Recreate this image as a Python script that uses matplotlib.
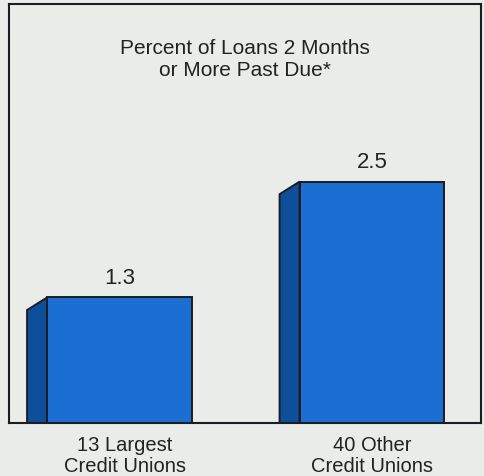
import matplotlib
matplotlib.use("Agg")
import matplotlib.pyplot as plt
from matplotlib.patches import Polygon

# Delinquency rates, percent of loans 2+ months past due
groups = ["13 Largest\nCredit Unions", "40 Other\nCredit Unions"]
past_due = [1.3, 2.5]

paper = "#eaece9"
front_blue = "#1c6fd2"
side_blue = "#0e4f9c"
ink = "#1c1c22"

plt.rcParams["font.family"] = ["Liberation Sans", "DejaVu Sans"]

fig = plt.figure(figsize=(4.85, 4.77), dpi=100, facecolor=paper)
ax = fig.add_axes([9 / 485, 53 / 477, 472 / 485, 419 / 477])
ax.set_facecolor(paper)

bar_w = 0.574
depth_x = 0.079   # how far the side face sticks out to the left
depth_y = 0.13    # how much the side's top drops

xs = list(range(len(past_due)))
ax.bar(xs, past_due, width=bar_w, color=front_blue, edgecolor=ink,
       linewidth=1.4, zorder=3)

for x, v in zip(xs, past_due):
    x0 = x - bar_w / 2
    side = Polygon([(x0, -0.01), (x0, v), (x0 - depth_x, v - depth_y),
                    (x0 - depth_x, -0.01)], closed=True,
                   facecolor=side_blue, edgecolor=ink, linewidth=1.4, zorder=2)
    ax.add_patch(side)
    ax.text(x, v + 0.1, f"{v:.1f}", ha="center", va="bottom",
            fontsize=16, color="#222222")

ax.set_xlim(-0.4376, 1.4317)
ax.set_ylim(0, 4.34)
ax.set_xticks([])
ax.set_yticks([])
for s in ax.spines.values():
    s.set_color(ink)
    s.set_linewidth(1.5)

ax.text(0.5, 0.87, "Percent of Loans 2 Months\nor More Past Due*",
        transform=ax.transAxes, ha="center", va="center",
        fontsize=15, color="#222222", linespacing=1.25)

# category captions under the baseline; the left one sits a touch right
label_shift = [0.02, 0.0]
for x, g, dx in zip(xs, groups, label_shift):
    ax.text(x + dx, -0.12, g, ha="center", va="top", fontsize=14.5,
            color="#222222", linespacing=1.15)

fig.savefig("out.png", dpi=100, facecolor=paper)
